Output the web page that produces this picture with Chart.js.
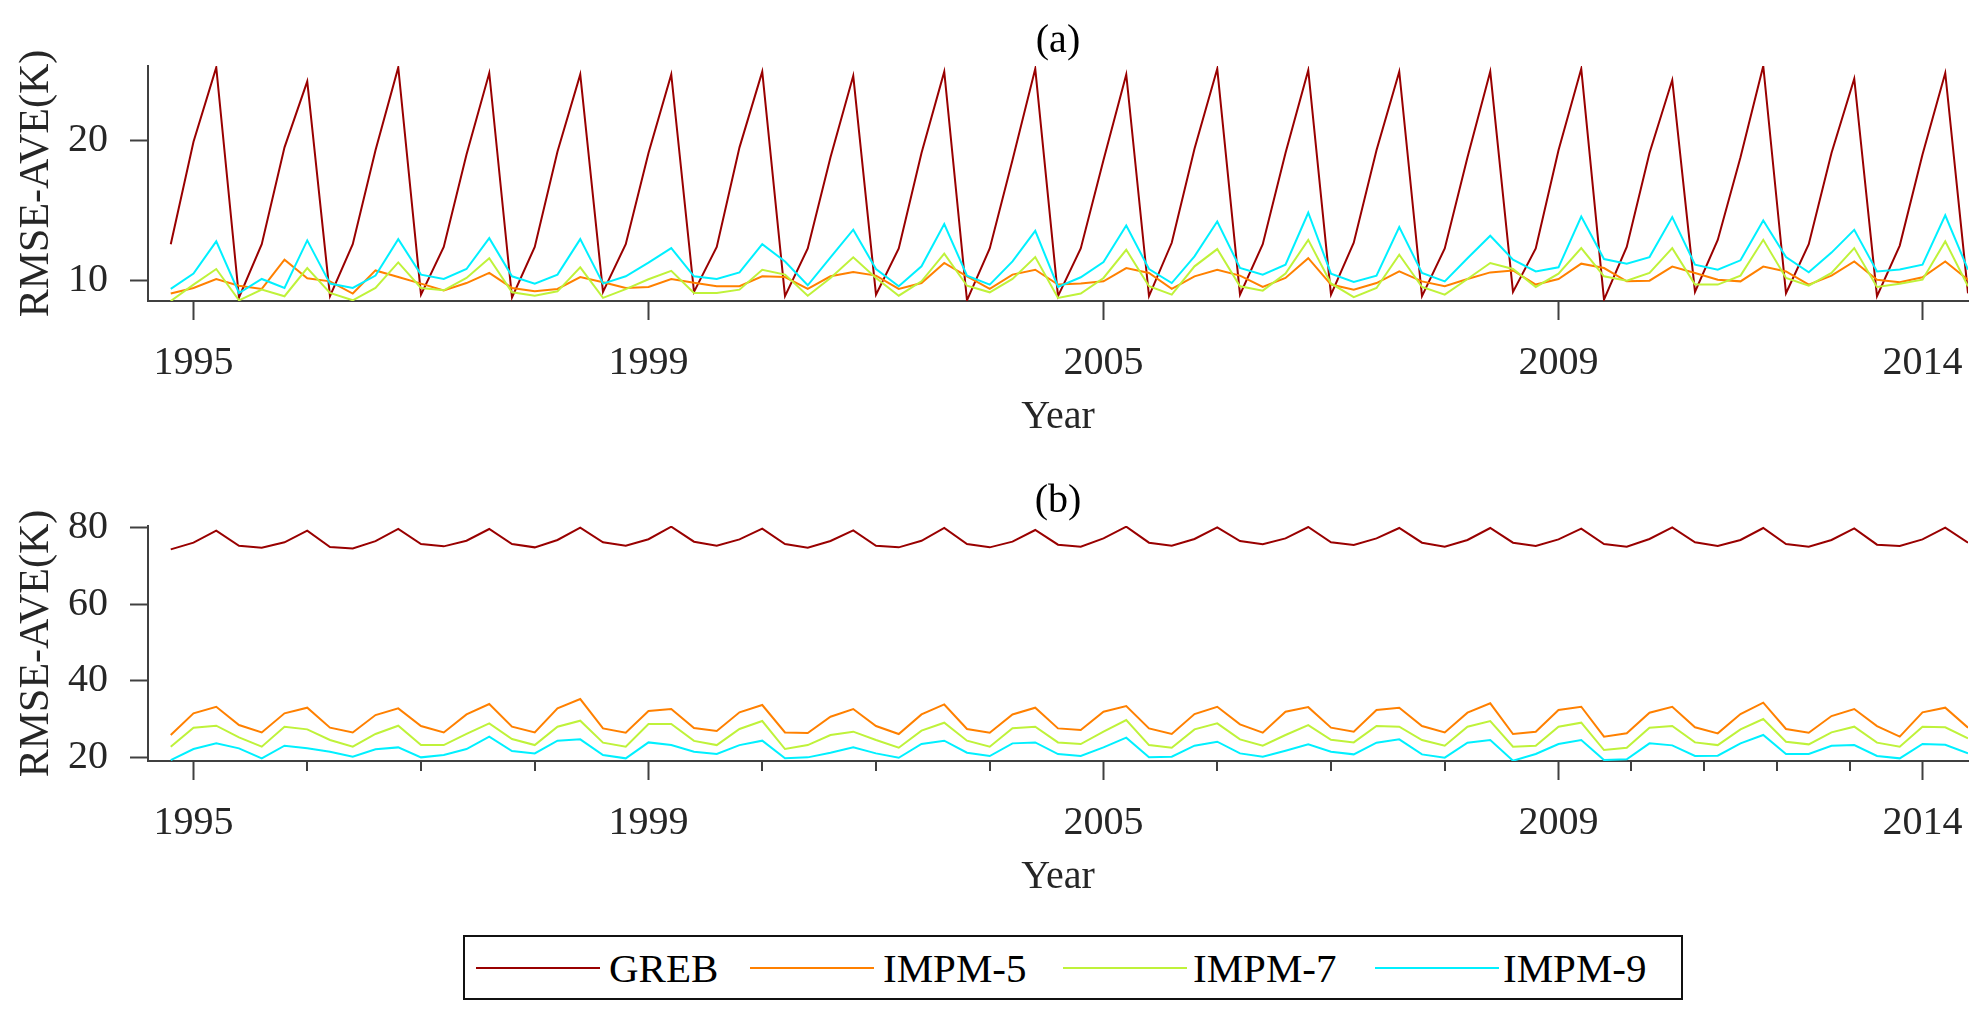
<!DOCTYPE html>
<html>
<head>
<meta charset="utf-8">
<script src="https://cdn.jsdelivr.net/npm/chart.js@4.4.1/dist/chart.umd.min.js"></script>
<style>
  html, body { margin: 0; padding: 0; background: #ffffff; }
  body { width: 1987px; height: 1018px; position: relative; overflow: hidden; }
  canvas { position: absolute; left: 0; }
  #c1 { top: 0px; }
  #c2 { top: 460px; }
  #legend { position: absolute; left: 463px; top: 935px; width: 1220px; height: 65px;
            box-sizing: border-box; border: 2px solid #111; background: #fff;
            font-family: 'Liberation Serif', 'Times New Roman', serif; font-size: 41px; color: #000; }
  .lg-line { position: absolute; height: 2px; top: 30px; }
  .lg-text { position: absolute; top: 6px; line-height: 50px; white-space: nowrap; }
</style>
</head>
<body>
<canvas id="c1" width="1987" height="460"></canvas>
<canvas id="c2" width="1987" height="460"></canvas>
<div id="legend"></div>
<script>
// ---- data -------------------------------------------------------------
const seriesNames = ['GREB', 'IMPM-5', 'IMPM-7', 'IMPM-9'];
const seriesColors = ['#990000', '#ff8000', '#bff23a', '#00f0ff'];

// sample index (1..80, seasonal samples 1995-2014)
const sampleIndex = [1,2,3,4,5,6,7,8,9,10,11,12,13,14,15,16,17,18,19,20,
  21,22,23,24,25,26,27,28,29,30,31,32,33,34,35,36,37,38,39,40,
  41,42,43,44,45,46,47,48,49,50,51,52,53,54,55,56,57,58,59,60,
  61,62,63,64,65,66,67,68,69,70,71,72,73,74,75,76,77,78,79,80];

const tickPositions = [2, 22, 42, 62, 78];
const tickLabels = ['1995', '1999', '2005', '2009', '2014'];
const minorTicksB = [7, 12, 17, 27, 32, 37, 47, 52, 57, 65.2, 68.4, 71.6, 74.8];
const yTicksA = [10, 20];
const yTicksB = [20, 40, 60, 80];

// panel (a)
const grebA = [12.6,19.9,25.2,8.8,12.6,19.5,24.2,8.9,12.6,19.3,25.2,9.0,12.4,19.0,24.8,8.8,12.4,19.2,24.7,9.2,
  12.6,19.1,24.7,9.2,12.4,19.5,24.9,8.9,12.3,18.8,24.6,9.0,12.3,19.1,24.9,8.6,12.3,18.6,25.1,8.9,
  12.3,18.6,24.7,8.9,12.7,19.4,25.1,9.0,12.6,19.1,25.0,9.0,12.7,19.3,24.9,8.9,12.3,18.8,24.9,9.2,
  12.3,19.3,25.1,8.65,12.4,19.1,24.3,9.2,12.9,18.8,25.3,9.1,12.6,19.1,24.4,8.9,12.5,19.0,24.8,9.1];
const impm5A = [9.08,9.48,10.12,9.64,9.41,11.49,10.17,9.95,9.08,10.73,10.26,9.79,9.31,9.83,10.55,9.48,9.24,9.41,10.26,9.88,
  9.48,9.55,10.12,9.85,9.6,9.6,10.31,10.26,9.41,10.31,10.62,10.36,9.41,9.83,11.26,10.31,9.41,10.43,10.78,9.72,
  9.79,9.95,10.9,10.55,9.41,10.31,10.78,10.36,9.55,10.19,11.6,9.72,9.36,9.83,10.66,9.95,9.6,10.12,10.59,10.73,
  9.72,10.12,11.21,10.9,9.95,10.0,11.0,10.55,10.07,9.95,11.0,10.66,9.72,10.36,11.37,10.07,9.88,10.24,11.37,10.07];
const impm7A = [8.55,9.72,10.83,8.6,9.36,8.89,10.9,9.12,8.6,9.48,11.3,9.48,9.31,10.19,11.6,9.17,8.93,9.24,10.95,8.77,
  9.4,10.1,10.7,9.12,9.12,9.36,10.78,10.43,8.93,10.19,11.66,10.19,8.93,9.95,11.92,9.64,9.17,10.12,11.68,8.77,
  9.08,10.19,12.2,9.6,9.0,11.02,12.25,9.6,9.29,10.5,12.91,9.8,8.82,9.48,11.85,9.55,9.0,10.12,11.26,10.83,
  9.55,10.5,12.32,10.31,10.0,10.55,12.32,9.72,9.72,10.36,12.91,10.19,9.64,10.55,12.32,9.55,9.78,10.07,12.8,9.6];
const impm9A = [9.41,10.5,12.8,9.12,10.12,9.48,12.87,9.79,9.48,10.36,12.96,10.43,10.12,10.83,13.03,10.31,9.79,10.43,12.96,9.79,
  10.31,11.28,12.32,10.31,10.12,10.59,12.6,11.37,9.67,11.66,13.63,10.83,9.6,11.02,14.03,10.36,9.72,11.37,13.55,9.55,
  10.24,11.33,13.93,10.83,9.83,11.73,14.22,10.9,10.43,11.14,14.84,10.5,9.9,10.36,13.82,10.55,9.95,11.6,13.2,11.5,
  10.66,10.95,14.57,11.54,11.21,11.68,14.53,11.14,10.78,11.45,14.29,11.68,10.6,12.0,13.62,10.66,10.79,11.14,14.66,10.79];

// panel (b)
const grebB = [74.26,76.0,79.13,75.2,74.7,76.1,79.13,74.87,74.5,76.4,79.57,75.65,75.04,76.5,79.57,75.65,74.78,76.7,79.9,76.1,
  75.2,76.9,80.17,76.26,75.2,76.87,79.65,75.65,74.7,76.43,79.2,75.2,74.78,76.5,79.83,75.65,74.78,76.26,79.3,75.48,
  74.96,77.13,80.17,76.0,75.2,76.96,80.0,76.43,75.57,77.13,80.09,76.09,75.4,77.13,79.83,76.0,74.96,76.7,79.83,76.0,
  75.13,76.87,79.65,75.65,74.96,76.96,80.0,76.09,75.13,76.7,79.83,75.65,74.96,76.7,79.74,75.48,75.13,76.87,79.9,76.0];
const impm5B = [25.83,31.48,33.2,28.43,26.5,31.48,32.96,27.74,26.5,31.04,32.78,28.17,26.5,31.2,33.9,28.0,26.5,32.78,35.2,27.56,
  26.43,32.1,32.6,27.65,26.87,31.74,33.65,26.5,26.35,30.6,32.6,28.17,26.09,31.2,33.8,27.4,26.43,31.2,32.96,27.56,
  27.13,31.9,33.4,27.56,26.09,31.3,33.2,28.6,26.43,31.9,33.1,27.74,26.7,32.35,32.96,28.17,26.5,31.65,34.09,26.09,
  26.7,32.35,33.2,25.4,26.26,31.65,33.2,27.83,26.26,31.3,34.26,27.4,26.43,30.78,32.6,28.17,25.4,31.74,32.96,27.74];
const impm7B = [22.78,27.74,28.26,25.2,22.78,28.0,27.3,24.52,22.78,26.1,28.26,23.2,23.2,26.1,28.87,24.78,23.2,28.0,29.57,23.83,
  22.78,28.7,28.7,24.3,23.2,27.4,29.48,22.17,23.2,25.83,26.7,24.52,22.52,26.96,29.04,24.35,22.78,27.57,28.0,23.9,
  23.48,26.7,29.74,23.2,22.52,27.3,28.87,24.7,23.04,25.83,28.43,24.6,23.9,28.17,28.0,24.52,23.04,28.0,29.48,22.78,
  23.04,28.0,29.04,21.91,22.52,27.74,28.17,23.9,23.2,27.3,30.0,24.09,23.39,26.52,28.0,23.83,22.78,28.0,27.83,24.96];
const impm9B = [19.3,22.17,23.65,22.35,19.74,23.04,22.35,21.48,20.17,22.09,22.6,20.0,20.6,22.17,25.4,21.65,21.04,24.35,24.7,20.6,
  19.74,23.9,23.2,21.48,20.87,23.2,24.35,19.74,20.0,21.2,22.6,21.04,19.9,23.48,24.35,21.2,20.35,23.65,23.9,20.87,
  20.35,22.6,25.13,20.0,20.17,23.04,24.09,21.04,20.17,21.74,23.39,21.48,20.78,23.83,24.7,20.78,19.91,23.83,24.52,19.13,
  20.87,23.48,24.52,19.3,19.48,23.65,23.13,20.35,20.43,23.65,25.83,20.87,20.87,23.04,23.2,20.35,19.74,23.48,23.3,21.04];

// ---- styling ----------------------------------------------------------
const FONT = "'Liberation Serif', 'Times New Roman', serif";
const AXIS_COLOR = '#404040';
const TEXT_COLOR = '#262626';

function toPoints(arr) { return arr.map((v, i) => ({ x: sampleIndex[i], y: v })); }
function labelFor(v) {
  const k = tickPositions.indexOf(v);
  return k >= 0 ? tickLabels[k] : '';
}

// draws short (minor) x ticks for panel b
const minorTickPlugin = {
  id: 'minorTicks',
  afterDraw(chart, args, opts) {
    if (!opts.values || !opts.values.length) return;
    const xs = chart.scales.x;
    const ctx = chart.ctx;
    ctx.save();
    ctx.strokeStyle = AXIS_COLOR;
    ctx.lineWidth = 2;
    ctx.beginPath();
    opts.values.forEach(v => {
      const px = Math.round(xs.getPixelForValue(v));
      ctx.moveTo(px, xs.top);
      ctx.lineTo(px, xs.top + opts.length);
    });
    ctx.stroke();
    ctx.restore();
  }
};

function makeChart(canvasId, title, data, yMin, yMax, yTicks, minorTicks) {
  const datasets = data.map((arr, i) => ({
    label: seriesNames[i],
    data: toPoints(arr),
    borderColor: seriesColors[i],
    backgroundColor: seriesColors[i],
    borderWidth: 2,
    pointRadius: 0,
    tension: 0,
    fill: false,
    order: data.length - i
  }));
  return new Chart(document.getElementById(canvasId), {
    type: 'line',
    data: { datasets },
    plugins: [minorTickPlugin],
    options: {
      responsive: false,
      animation: false,
      devicePixelRatio: 1,
      layout: { padding: { left: 0, right: 19, top: 0, bottom: 0 } },
      plugins: {
        legend: { display: false },
        tooltip: { enabled: false },
        title: {
          display: true, text: title, fullSize: false, color: '#000',
          font: { family: FONT, size: 40, weight: 'normal' },
          padding: { top: 17, bottom: 1 }
        },
        minorTicks: { values: minorTicks, length: 10 }
      },
      scales: {
        x: {
          type: 'linear', min: 0, max: 80,
          afterBuildTicks: s => { s.ticks = tickPositions.map(v => ({ value: v })); },
          afterFit: s => { s.height = 159; },
          ticks: {
            callback: v => labelFor(v), autoSkip: false, maxRotation: 0, minRotation: 0,
            color: TEXT_COLOR, padding: 19, font: { family: FONT, size: 40 }
          },
          grid: { display: true, drawOnChartArea: false, drawTicks: true, tickLength: 19,
                  tickColor: AXIS_COLOR, tickWidth: 2 },
          border: { display: true, color: AXIS_COLOR, width: 2 },
          title: { display: true, text: 'Year', color: TEXT_COLOR,
                   font: { family: FONT, size: 40 }, padding: { top: 0, bottom: 19 } }
        },
        y: {
          type: 'linear', min: yMin, max: yMax,
          afterBuildTicks: s => { s.ticks = yTicks.map(v => ({ value: v })); },
          afterFit: s => { s.width = 148; },
          ticks: { color: TEXT_COLOR, padding: 22, font: { family: FONT, size: 40 } },
          grid: { display: true, drawOnChartArea: false, drawTicks: true, tickLength: 18,
                  tickColor: AXIS_COLOR, tickWidth: 2 },
          border: { display: true, color: AXIS_COLOR, width: 2 },
          title: { display: true, text: 'RMSE-AVE(K)', color: TEXT_COLOR,
                   font: { family: FONT, size: 42 }, padding: { top: 12, bottom: 0 } }
        }
      }
    }
  });
}

makeChart('c1', '(a)', [grebA, impm5A, impm7A, impm9A], 8.55, 25.3, yTicksA, []);
makeChart('c2', '(b)', [grebB, impm5B, impm7B, impm9B], 19.05, 80.35, yTicksB, minorTicksB);

// ---- legend -------------------------------------------------------------
const legendLineLeft = [11, 285, 598, 910];
const legendTextLeft = [144, 418, 728, 1038];
const lg = document.getElementById('legend');
seriesNames.forEach((name, i) => {
  const ln = document.createElement('div');
  ln.className = 'lg-line';
  ln.style.left = legendLineLeft[i] + 'px';
  ln.style.width = '124px';
  ln.style.background = seriesColors[i];
  lg.appendChild(ln);
  const tx = document.createElement('div');
  tx.className = 'lg-text';
  tx.style.left = legendTextLeft[i] + 'px';
  tx.textContent = name;
  lg.appendChild(tx);
});
</script>
</body>
</html>
